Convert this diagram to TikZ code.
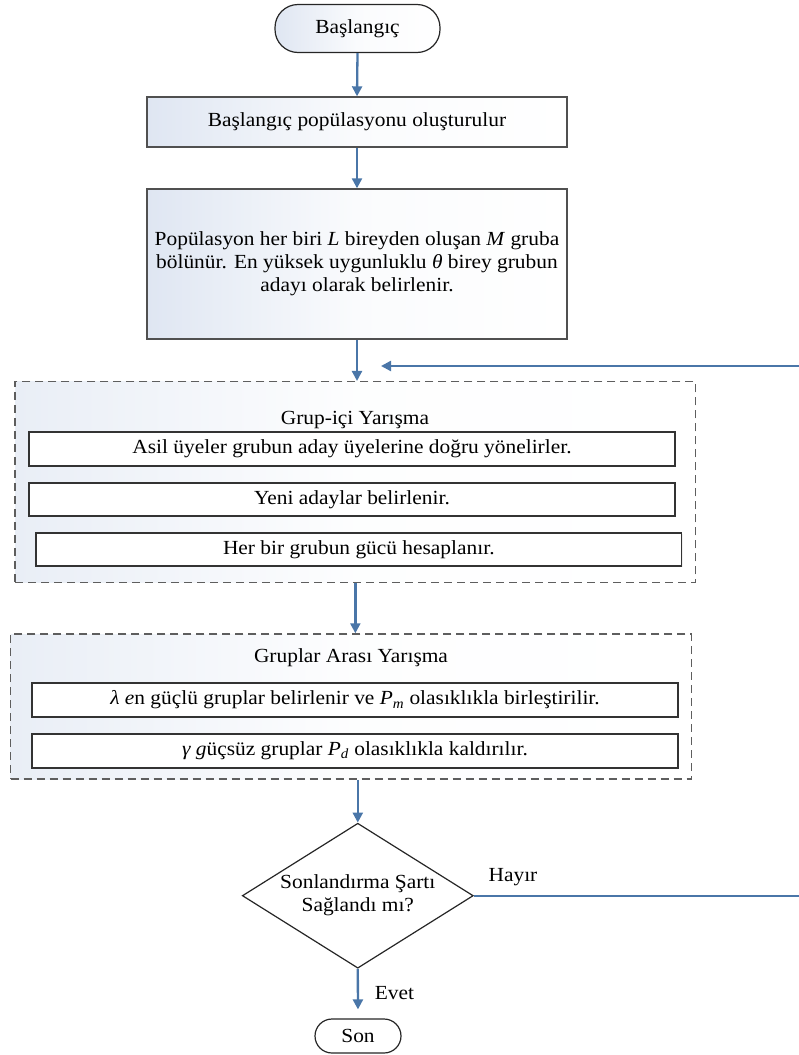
\documentclass[tikz,border=0pt]{standalone}
\usepackage{fontspec}
\setmainfont{Liberation Serif}[FakeStretch=1.07]
\usetikzlibrary{arrows.meta,shapes.geometric,shadows}
\definecolor{arrowblue}{HTML}{4A76A8}
\definecolor{gblue}{HTML}{DFE6F2}
\definecolor{gblue2}{HTML}{E9EEF6}
\definecolor{bordergray}{HTML}{505050}
\definecolor{dashgray}{HTML}{5E5E5E}
\begin{document}
\begin{tikzpicture}[x=1pt,y=-1pt,
  every node/.style={font=\fontsize{20}{23}\selectfont, inner sep=0pt},
  gradfill/.style={left color=gblue, right color=white, middle color=white!85!gblue},
  procbox/.style={draw=bordergray, line width=1.4pt, gradfill, align=center,
    drop shadow={shadow xshift=1.2pt, shadow yshift=-1.2pt, opacity=0.15, fill=gray}},
  innerbox/.style={draw=black!80, line width=1.2pt, fill=white, align=center,
    drop shadow={shadow xshift=1.2pt, shadow yshift=-1.2pt, opacity=0.12, fill=gray}},
  groupbox/.style={draw=dashgray, line width=1.5pt, dash pattern=on 8pt off 5pt,
    left color=gblue2, right color=white, middle color=white!92!gblue2},
  termbox/.style={draw=black!85, line width=1.2pt, rounded corners=#1, align=center},
  flow/.style={draw=arrowblue, line width=2.3pt, -{Triangle[length=10pt,width=10pt]}}
]
\useasboundingbox (0,0) rectangle (798,1055);

% start
\node[termbox=23pt, gradfill, minimum width=165pt, minimum height=48pt] (start) at (357.5,28.5) {Başlangıç};

% process boxes
\node[procbox, minimum width=420pt, minimum height=50pt] (box1) at (357,122) {Başlangıç popülasyonu oluşturulur};
\node[procbox, minimum width=420pt, minimum height=150pt] (box2) at (357,264)
  {Popülasyon her biri \textit{L} bireyden oluşan \textit{M} gruba\\
   bölünür. En yüksek uygunluklu \textit{θ} birey grubun\\
   adayı olarak belirlenir.};

% group 1
\node[groupbox, minimum width=680.7pt, minimum height=201pt] (grp1) at (355.35,482.2) {};
\node (t1) at (355,420) {Grup-içi Yarışma};
\node[innerbox, minimum width=646pt, minimum height=34pt] (ba) at (352,449) {Asil üyeler grubun aday üyelerine doğru yönelirler.};
\node[innerbox, minimum width=646pt, minimum height=33pt] (bb) at (352,499.5) {Yeni adaylar belirlenir.};
\node[innerbox, minimum width=645.7pt, minimum height=33pt] (bc) at (358.8,549.5) {Her bir grubun gücü hesaplanır.};

% group 2
\node[groupbox, minimum width=680.8pt, minimum height=145pt] (grp2) at (351.1,706.5) {};
\node (t2) at (351,658) {Gruplar Arası Yarışma};
\node[innerbox, minimum width=646pt, minimum height=34pt] (bd) at (355,700) {\textit{λ e}n güçlü gruplar belirlenir ve \textit{P}\textsubscript{\textit{m}} olasıklıkla birleştirilir.};
\node[innerbox, minimum width=646pt, minimum height=34pt] (be) at (355,751) {\textit{γ g}üçsüz gruplar \textit{P}\textsubscript{\textit{d}} olasıklıkla kaldırılır.};

% decision
\node[diamond, draw=black!85, line width=1.2pt, fill=white, aspect=1.593, minimum width=231pt, minimum height=145pt, align=center] (dia) at (357.8,895.7)
  {Sonlandırma Şartı\\Sağlandı mı?};

% end
\node[termbox=17pt, fill=white, minimum width=86pt, minimum height=34pt] (son) at (358,1036) {Son};

% labels
\node (hayir) at (513,877) {Hayır};
\node (evet) at (394.5,993) {Evet};

% loop coordinates
\coordinate (lb) at (802,895.7);
\coordinate (lt) at (802,366);
\coordinate (le) at (381,366);

% connectors
\draw[flow] (start.south) -- (box1.north);
\draw[flow] (box1.south) -- (box2.north);
\draw[flow] (box2.south) -- (box2.south |- grp1.north);
\draw[flow] (grp1.south) -- (grp1.south |- grp2.north);
\draw[flow] (dia.north |- grp2.south) -- (dia.north);
\draw[flow, shorten >=9pt] (dia.south) -- (son.north);
\draw[flow] (dia.east) -- (lb) -- (lt) -- (le);
\end{tikzpicture}
\end{document}
